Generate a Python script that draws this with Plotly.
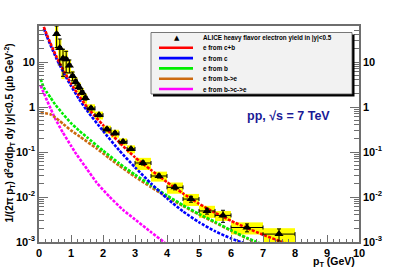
import plotly.graph_objects as go

# ---------------- data ----------------
pt = [0.55, 0.65, 0.75, 0.85, 0.95, 1.05, 1.15, 1.25, 1.35, 1.45, 1.625, 1.875,
      2.125, 2.375, 2.625, 2.875, 3.25, 3.75, 4.25, 4.75, 5.25, 5.75, 6.5, 7.5]
pt_halfwidth = [0.05, 0.05, 0.05, 0.05, 0.05, 0.05, 0.05, 0.05, 0.05, 0.05, 0.125, 0.125,
                0.125, 0.125, 0.125, 0.125, 0.25, 0.25, 0.25, 0.25, 0.25, 0.25, 0.5, 0.5]
yield_val = [42, 20.5, 12.0, 11.5, 8.4, 4.9, 3.6, 2.8, 2.1, 1.58, 0.94, 0.66,
             0.32, 0.26, 0.17, 0.117, 0.057, 0.0293, 0.0164, 0.009, 0.0049, 0.0039, 0.0021, 0.0015]
stat_rel = [0.5, 0.58, 0.6, 0.5, 0.32, 0.22, 0.15, 0.12, 0.1, 0.1, 0.08, 0.08,
            0.08, 0.08, 0.08, 0.08, 0.1, 0.1, 0.12, 0.15, 0.15, 0.3, 0.2, 0.3]
sys_rel = [0.55, 0.55, 0.65, 0.6, 0.35, 0.3, 0.28, 0.26, 0.25, 0.25, 0.22, 0.2,
           0.2, 0.2, 0.18, 0.2, 0.3, 0.25, 0.28, 0.3, 0.3, 0.25, 0.3, 0.35]

cb_pt = [0.15, 0.25, 0.35, 0.45, 0.55, 0.65, 0.8, 1.0, 1.25, 1.5, 2.0, 2.5, 3.0, 3.5,
         4.0, 4.5, 5.0, 5.5, 6.0, 6.5, 7.0, 7.6, 7.8]
cb_val = [60.3, 39.8, 26.9, 18.6, 12.9, 9.33, 5.89, 3.31, 1.78, 1.0, 0.398, 0.166, 0.0759, 0.0398,
          0.0214, 0.0120, 0.00708, 0.00447, 0.00295, 0.00204, 0.00145, 0.0010, 0.00089]

c_pt = [0.15, 0.25, 0.35, 0.45, 0.55, 0.65, 0.8, 1.0, 1.25, 1.5, 2.0, 2.5, 3.0, 3.5,
        4.0, 4.5, 5.0, 5.5, 6.0, 6.3, 6.5]
c_val = [55, 36.3, 24.5, 17.0, 11.7, 8.51, 5.25, 2.95, 1.51, 0.832, 0.295, 0.110, 0.0457, 0.0200,
         0.00933, 0.00479, 0.00275, 0.00174, 0.00120, 0.0010, 0.00089]

b_pt = [0.05, 0.15, 0.25, 0.36, 0.5, 0.75, 1.0, 1.25, 1.5, 2.0, 2.5, 3.0, 3.5, 4.0, 4.5,
        5.0, 5.5, 6.0, 6.5, 6.8, 7.0]
b_val = [4.2, 2.7, 2.1, 1.62, 1.15, 0.70, 0.44, 0.30, 0.212, 0.108, 0.0564, 0.0314, 0.0183, 0.0108,
         0.0066, 0.0042, 0.0028, 0.00183, 0.00123, 0.0010, 0.00088]

be_pt = [0.05, 0.2, 0.35, 0.5, 0.63, 0.76, 1.0, 1.28, 1.8, 2.2, 2.5, 3.0, 3.5, 4.0,
         4.5, 5.0, 5.5, 6.0, 6.5, 6.75, 6.9]
be_val = [0.741, 0.724, 0.692, 0.589, 0.501, 0.417, 0.302, 0.219, 0.120, 0.0724, 0.0501, 0.0282,
          0.0166, 0.0100, 0.00631, 0.00407, 0.00269, 0.00178, 0.0012, 0.0010, 0.00089]

bce_pt = [0.05, 0.15, 0.25, 0.36, 0.5, 0.74, 1.0, 1.16, 1.5, 1.8, 2.2, 2.63, 2.95, 3.5, 3.9, 4.0]
bce_val = [3.0, 2.05, 1.4, 0.933, 0.562, 0.275, 0.138, 0.0912, 0.0417, 0.0209, 0.0102, 0.00513,
           0.00339, 0.00166, 0.0010, 0.00087]

legend_labels = ["ALICE heavy flavor electron yield in |y|<0.5", "e from c+b", "e from c",
                 "e from b", "e from b->e", "e from b->c->e"]
x_ticks = [0, 1, 2, 3, 4, 5, 6, 7, 8, 9, 10]
y_ticks = [0.001, 0.01, 0.1, 1, 10]
y_ticktext = ["10<sup>-3</sup>", "10<sup>-2</sup>", "10<sup>-1</sup>", "1", "10"]

# ---------------- styling ----------------
FONT = "Liberation Sans"
AXC = "#6e6e6e"
W, H = 399, 270
L, R, T, B = 39, 40, 26, 28
PW, PH = W - L - R, H - T - B


def px_x(p):
    return (p - L) / PW


def px_y(p):
    return (H - B - p) / PH


fig = go.Figure()

curves = [
    (cb_pt, cb_val, "#ff0000"),
    (c_pt, c_val, "#0000ff"),
    (b_pt, b_val, "#00ee00"),
    (be_pt, be_val, "#cc6a10"),
    (bce_pt, bce_val, "#ff00ff"),
]
for order in [4, 3, 2, 1, 0]:
    xs, ys, col = curves[order]
    fig.add_trace(go.Scatter(x=xs, y=ys, mode="lines",
                             line=dict(color=col, width=2.6, dash="3px,1.4px", shape="spline", smoothing=0.5),
                             hoverinfo="skip", showlegend=False))

fig.add_trace(go.Scatter(
    x=pt, y=yield_val, mode="markers",
    marker=dict(symbol="triangle-up", size=8, color="black"),
    error_x=dict(type="data", array=pt_halfwidth, color="black", thickness=1, width=2),
    error_y=dict(type="data", array=[v * s for v, s in zip(yield_val, stat_rel)],
                 color="black", thickness=1, width=2),
    showlegend=False, hoverinfo="skip"))

# invisible trace for the mirrored right axis
fig.add_trace(go.Scatter(x=[pt[0]], y=[yield_val[0]], yaxis="y2", mode="markers",
                         marker=dict(opacity=0), showlegend=False, hoverinfo="skip"))

shapes = []
for x, hw, y, s in zip(pt, pt_halfwidth, yield_val, sys_rel):
    shapes.append(dict(type="rect", xref="x", yref="y", x0=x - hw, x1=x + hw,
                       y0=y * (1 - s), y1=y * (1 + s), fillcolor="#ffff00",
                       line=dict(width=0), layer="below"))

# legend box with shadow
lx0, lx1, ly0, ly1 = 151, 352, 32.5, 94
shapes.append(dict(type="rect", xref="paper", yref="paper",
                   x0=px_x(lx0 + 2), x1=px_x(lx1 + 2.5), y0=px_y(ly1 + 2.5), y1=px_y(ly0 + 2),
                   fillcolor="black", line=dict(width=0)))
shapes.append(dict(type="rect", xref="paper", yref="paper",
                   x0=px_x(lx0), x1=px_x(lx1), y0=px_y(ly1), y1=px_y(ly0),
                   fillcolor="#f2f2f2", line=dict(color="#555555", width=0.8)))

annotations = []
entry_y = [37.8, 47.8, 58.1, 68.4, 78.7, 89.0]
line_cols = ["#ff0000", "#0000ff", "#00ee00", "#cc6a10", "#ff00ff"]
for i, lab in enumerate(legend_labels):
    annotations.append(dict(xref="paper", yref="paper", x=px_x(201), y=px_y(entry_y[i]),
                            text=lab, showarrow=False, xanchor="left", yanchor="middle",
                            font=dict(family=FONT, size=6.3, weight="bold", color="black")))
    if i == 0:
        annotations.append(dict(xref="paper", yref="paper", x=px_x(176.5), y=px_y(entry_y[i]),
                                text="▲", showarrow=False, xanchor="center", yanchor="middle",
                                font=dict(family="DejaVu Sans", size=7, color="black")))
    else:
        shapes.append(dict(type="line", xref="paper", yref="paper",
                           x0=px_x(159), x1=px_x(193), y0=px_y(entry_y[i]), y1=px_y(entry_y[i]),
                           line=dict(color=line_cols[i - 1], width=2.6)))

annotations.append(dict(xref="paper", yref="paper", x=px_x(288), y=px_y(115.5),
                        text="pp, √s = 7 TeV", showarrow=False, xanchor="center", yanchor="middle",
                        font=dict(family=FONT, size=12.5, weight="bold", color="#1a1a96")))
annotations.append(dict(xref="paper", yref="paper", x=px_x(357), y=px_y(262),
                        text="p<sub>T</sub> (GeV)", showarrow=False, xanchor="right", yanchor="middle",
                        font=dict(family=FONT, size=10.5, weight="bold", color="black")))
annotations.append(dict(xref="paper", yref="paper", x=px_x(8.5), y=px_y(133),
                        text="1/(2π p<sub>T</sub>) d<sup>2</sup>σ/dp<sub>T</sub> dy |y|<0.5 (μb GeV<sup>-2</sup>)",
                        textangle=-90, showarrow=False, xanchor="center", yanchor="middle",
                        font=dict(family=FONT, size=10, weight="bold", color="black")))

minor_y = [k * 10 ** e for e in range(-3, 2) for k in range(2, 10)]

tickfont = dict(family=FONT, size=11, weight="bold", color="black")
fig.update_layout(
    width=W, height=H, margin=dict(l=L, r=R, t=T, b=B, pad=0),
    paper_bgcolor="white", plot_bgcolor="white",
    shapes=shapes, annotations=annotations,
    xaxis=dict(range=[0, 10], tickvals=x_ticks, ticks="inside", ticklen=7, tickwidth=1,
               tickcolor=AXC, showline=True, linecolor=AXC, linewidth=1.6, mirror=True,
               showgrid=False, zeroline=False, tickfont=tickfont,
               minor=dict(dtick=0.2, tick0=0, ticks="inside", ticklen=3.5, tickcolor=AXC, showgrid=False)),
    yaxis=dict(type="log", range=[-3, 1.8], tickvals=y_ticks, ticktext=y_ticktext,
               ticks="inside", ticklen=9, tickwidth=1, tickcolor=AXC, showline=True,
               linecolor=AXC, linewidth=1.6, showgrid=False, zeroline=False, tickfont=tickfont,
               minor=dict(tickvals=minor_y, ticks="inside", ticklen=5, tickcolor=AXC, showgrid=False)),
    yaxis2=dict(type="log", range=[-3, 1.8], overlaying="y", side="right", tickvals=y_ticks,
                ticktext=y_ticktext, ticks="inside", ticklen=9, tickwidth=1, tickcolor=AXC,
                showline=True, linecolor=AXC, linewidth=1.6, showgrid=False, zeroline=False,
                tickfont=tickfont,
                minor=dict(tickvals=minor_y, ticks="inside", ticklen=5, tickcolor=AXC, showgrid=False)),
)

fig.write_html("out.html", config={"displayModeBar": False},
               post_script="document.body.style.margin='0';document.body.style.overflow='hidden';")
